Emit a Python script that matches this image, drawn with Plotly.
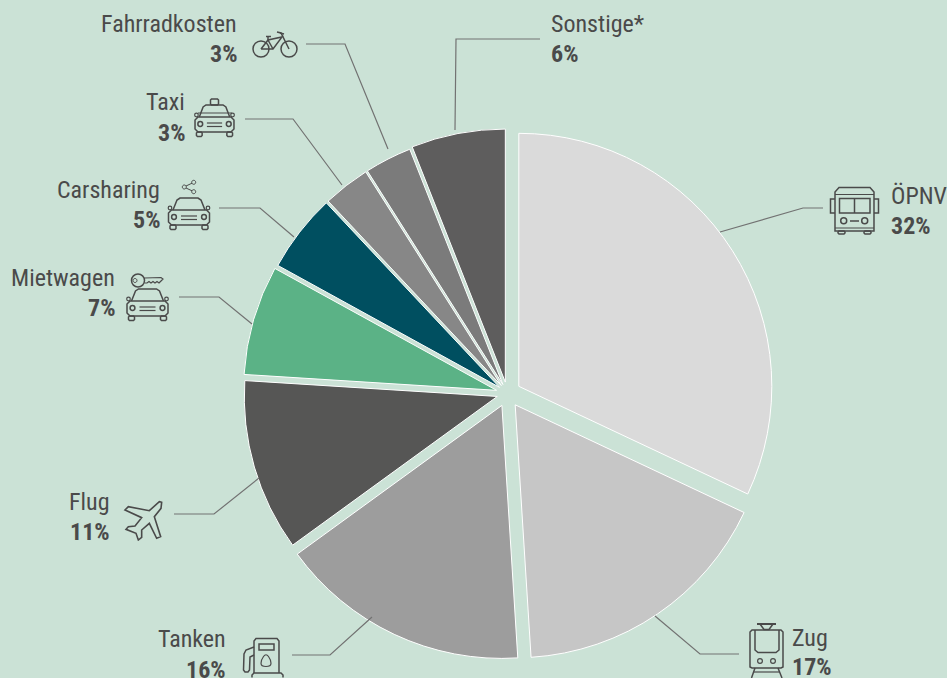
import plotly.graph_objects as go

W, H = 947, 678
BG = "#CBE2D6"
INK = "#4A4A4A"
LINE = "#727272"

categories = ["ÖPNV", "Zug", "Tanken", "Flug", "Mietwagen", "Carsharing", "Taxi", "Fahrradkosten", "Sonstige*"]
values = [32, 17, 16, 11, 7, 5, 3, 3, 6]
colors = ["#DADADA", "#C6C6C6", "#9D9D9D", "#565655", "#5BB286", "#004F60", "#878787", "#7B7B7B", "#5E5D5D"]
pulls = [0.053, 0.054, 0.052, 0.042, 0.045, 0.04, 0.04, 0.04, 0.046]

# geometry of the pie in pixels
CX, CY, R = 507.5, 393.5, 253
half = R * (1 + max(pulls))

def px(x): return x / W
def py(y): return 1 - y / H

fig = go.Figure(go.Pie(
    labels=categories, values=values, sort=False, direction="clockwise", rotation=0,
    pull=pulls, textinfo="none", hoverinfo="label+percent",
    marker=dict(colors=colors, line=dict(color="#FFFFFF", width=1)),
    domain=dict(x=[px(CX - half), px(CX + half)], y=[py(CY + half), py(CY - half)]),
    showlegend=False,
))

shapes = []

def path(d, width=1.5, color=INK, fill=None):
    shapes.append(dict(type="path", xref="paper", yref="paper", path=d,
                       line=dict(color=color, width=width),
                       fillcolor=fill if fill else "rgba(0,0,0,0)", layer="above"))

def P(x, y): return f"{px(x):.5f},{py(y):.5f}"

def poly(pts, close=False):
    d = "M" + " L".join(P(*p) for p in pts)
    return d + (" Z" if close else "")

def smooth(pts):
    n = len(pts)
    d = ""
    for i in range(n):
        a, b, c = pts[i - 1], pts[i], pts[(i + 1) % n]
        m1 = ((a[0] + b[0]) / 2, (a[1] + b[1]) / 2)
        m2 = ((b[0] + c[0]) / 2, (b[1] + c[1]) / 2)
        if i == 0:
            d += "M" + P(*m1)
        d += " Q" + P(*b) + " " + P(*m2)
    return d + " Z"

def circle(cx, cy, r):
    k = 0.5523 * r
    return ("M" + P(cx + r, cy) +
            " C" + P(cx + r, cy + k) + " " + P(cx + k, cy + r) + " " + P(cx, cy + r) +
            " C" + P(cx - k, cy + r) + " " + P(cx - r, cy + k) + " " + P(cx - r, cy) +
            " C" + P(cx - r, cy - k) + " " + P(cx - k, cy - r) + " " + P(cx, cy - r) +
            " C" + P(cx + k, cy - r) + " " + P(cx + r, cy - k) + " " + P(cx + r, cy) + " Z")

def rrect(x0, y0, x1, y1, r=1.5):
    return poly([(x0 + r, y0), (x1 - r, y0), (x1, y0 + r), (x1, y1 - r), (x1 - r, y1), (x0 + r, y1), (x0, y1 - r), (x0, y0 + r)], True)

def car(cx, top, sx=1.0):
    def X(v): return cx + v * sx
    path(poly([(X(-16), top + 12), (X(-12), top + 2), (X(-9), top), (X(9), top), (X(12), top + 2), (X(16), top + 12)]))
    path(rrect(X(-20.5), top + 12, X(20.5), top + 27, 3))
    path(circle(X(-15), top + 19, 2.4)); path(circle(X(15), top + 19, 2.4))
    path(poly([(X(-8), top + 18), (X(8), top + 18)]), 1.2)
    path(poly([(X(-8), top + 21.5), (X(8), top + 21.5)]), 1.2)
    path(rrect(X(-19), top + 27, X(-13), top + 31.5, 1))
    path(rrect(X(13), top + 27, X(19), top + 31.5, 1))
    path(circle(X(-19), top + 10, 1.8), 1.2); path(circle(X(19), top + 10, 1.8), 1.2)

# taxi
car(214.5, 105, 0.95)
path(rrect(210.5, 99, 218.5, 105, 1))
path(poly([(198, 113), (232, 113)]), 1.2)
# carsharing + share glyph
car(189, 198)
path(circle(193.7, 182.3, 2), 1); path(circle(184.3, 187, 2), 1); path(circle(193.7, 191.7, 2), 1)
path(poly([(192, 183.2), (186, 186)]), 1); path(poly([(186, 188), (192, 190.8)]), 1)
# rental car + key
car(147.5, 289)
path(circle(138, 280.5, 6.5)); path(circle(135, 280.5, 2), 1)
path(poly([(144.5, 278), (161, 277.5), (163, 279), (161, 281), (159, 283), (157, 281.5), (155, 283), (153, 281.5), (151, 283), (149, 281.5), (147, 283), (144.5, 283)]), 1.2)
# bicycle
path(circle(261, 49, 8)); path(circle(289, 49, 8))
path(poly([(261, 49), (268, 40), (282, 37), (273, 49), (261, 49)]))
path(poly([(268, 40), (273, 49)]))
path(poly([(266, 36.5), (271, 36.5)]))
path(poly([(268, 37), (268, 40)]))
path(poly([(289, 49), (281, 33), (277, 32)]))
path(poly([(280, 33), (284, 34)]))
# bus
path(poly([(835, 231), (835, 192), (839, 187.5), (870, 187.5), (874, 192), (874, 231)], True))
path(poly([(835, 194.5), (874, 194.5)]), 1.2)
path(poly([(839.5, 198.5), (870, 198.5), (870, 213), (839.5, 213)], True))
path(poly([(854.5, 198.5), (854.5, 213)]))
path(poly([(835, 199), (830.5, 199), (830.5, 213), (835, 213)]))
path(poly([(874, 199), (878.5, 199), (878.5, 213), (874, 213)]))
path(circle(843.7, 220.7, 3)); path(circle(864.7, 220.7, 3))
path(poly([(850, 221), (859, 221)]))
path(poly([(835, 228), (874, 228)]), 1.2)
path(rrect(838, 231, 845, 234, 1)); path(rrect(864, 231, 871, 234, 1))
# petrol pump
path(poly([(254, 673), (254, 641), (256, 638.5), (277, 638.5), (279, 641), (279, 673)]))
path(poly([(259, 644), (274, 644), (274, 650), (259, 650)], True))
path(smooth([(266, 653), (271, 660), (271, 666.5), (261, 666.5), (261, 660)]), 1.2)
path(poly([(252, 677.5), (252, 675), (254, 673), (281, 673), (283, 675), (283, 677.5)]))
path(poly([(254, 647), (246, 650), (244, 654), (243.5, 670), (245, 672), (248, 672), (249.5, 670), (250, 657), (254, 655)]))
# train
path(poly([(757, 624), (776, 624)]), 2)
path(poly([(760, 624), (764, 629.5), (769, 629.5), (773, 624)]))
path(poly([(752, 630), (781, 630), (783, 632), (783, 667), (781, 668), (752, 668), (750, 667), (750, 632)], True))
path(poly([(755, 630), (755, 650), (758, 652.5), (776, 652.5), (779, 650), (779, 630)]))
path(circle(760, 661, 2.4), 1.2); path(circle(773, 661, 2.4), 1.2)
path(poly([(755, 668), (751.5, 678)]))
path(poly([(778, 668), (782, 678)]))
path(poly([(754, 672), (780, 672)]), 1.2)
# plane
plane = [(305, 67), (298, 65), (268, 92), (205, 80), (195, 90), (245, 113), (225, 138), (205, 140),
         (198, 148), (228, 160), (235, 180), (245, 172), (245, 150), (268, 130), (290, 175), (302, 170), (283, 110), (303, 85)]
path(poly([(60 + a / 3, 480 + b / 3) for a, b in plane], True), 1.6)

# leader lines
leaders = [
    [(823, 208), (803, 208), (720, 232)],
    [(739, 654), (700, 654), (655, 616)],
    [(292, 655), (330, 655), (372, 617)],
    [(174, 514), (214, 514), (259, 478)],
    [(179, 297), (219, 297), (252, 324)],
    [(219, 208), (260, 208), (294, 237)],
    [(245, 119), (293, 119), (342, 185)],
    [(306, 44), (345, 44), (388, 149)],
    [(540, 39), (456, 39), (455, 130)],
]
for pts in leaders:
    path(poly(pts), 1.2, LINE)

# text
label_pos = [
    (889.5, "left", 196, 226), (790.5, "left", 638, 667), (227, "right", 639, 670), (111, "right", 502, 532),
    (116, "right", 278, 308), (161, "right", 190, 220), (186, "right", 102, 133), (238, "right", 24, 54),
    (549.5, "left", 24, 54),
]
FONT = "Roboto Condensed, Liberation Sans Narrow, Roboto"
annotations = []
for cat, val, (x, anc, y1, y2) in zip(categories, values, label_pos):
    annotations.append(dict(text=cat, x=px(x), y=py(y1), xref="paper", yref="paper", xanchor=anc, yanchor="middle",
                            showarrow=False, borderpad=0,
                            font=dict(family=FONT, size=24, color=INK)))
    annotations.append(dict(text=f"<b>{val}%</b>", x=px(x), y=py(y2), xref="paper", yref="paper", xanchor=anc, yanchor="middle",
                            showarrow=False, borderpad=0,
                            font=dict(family=FONT, size=24, color=INK)))

fig.update_layout(width=W, height=H, margin=dict(l=0, r=0, t=0, b=0), autosize=False,
                  paper_bgcolor=BG, plot_bgcolor=BG, shapes=shapes, annotations=annotations)
fig.write_html("out.html", config=dict(displayModeBar=False),
               post_script="document.body.style.margin='0';document.body.style.overflow='hidden';")
